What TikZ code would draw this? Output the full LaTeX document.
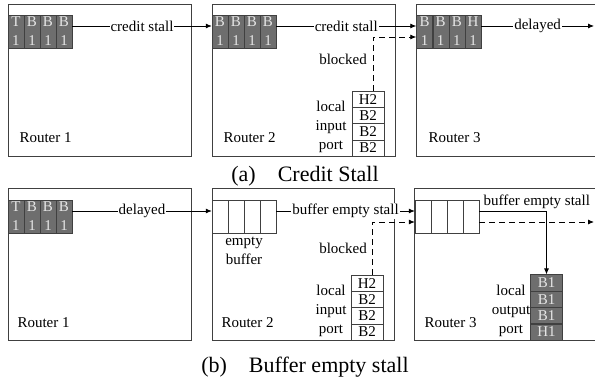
\documentclass[tikz,border=0pt]{standalone}
\usepackage{fontspec}
\setmainfont{Liberation Serif}
\usetikzlibrary{arrows.meta}
\definecolor{flitgray}{HTML}{6E6E6E}
\definecolor{linegray}{HTML}{404040}
\begin{document}
\begin{tikzpicture}[x=1pt,y=-1pt,
  font=\fontsize{15}{19}\selectfont,
  router/.style={draw=linegray,line width=0.9pt},
  flit/.style={draw=linegray,fill=flitgray,text=white!90!black,minimum width=16pt,
    minimum height=33pt,inner sep=0pt,align=center},
  slot/.style={draw=linegray,minimum width=16pt,minimum height=33pt,inner sep=0pt},
  qcell/.style={draw=linegray,minimum width=32pt,minimum height=16.25pt,inner sep=0pt},
  qfull/.style={qcell,fill=flitgray,text=white!90!black},
  link/.style={-{Latex[length=6pt,width=5pt]},line width=0.8pt},
  blockline/.style={link,dash pattern=on 6pt off 4pt},
  lbl/.style={fill=white,inner sep=1pt},
  caption/.style={font=\fontsize{22}{26}\selectfont}]
\useasboundingbox (0,0) rectangle (595,377);
\clip (0,0) rectangle (595,377);
% (a) credit stall: the routers
\draw[router] (8,4) rectangle (191,156);
\draw[router] (212,4) rectangle (395,156);
\draw[router] (416,4) rectangle (605,156);
% flits in each router
\foreach \t [count=\i from 0] in {T,B,B,B}
  \node[flit] (a1f\i) at ({16+16*\i},31.5) {\t\\1};
\foreach \t [count=\i from 0] in {B,B,B,B}
  \node[flit] (a2f\i) at ({220+16*\i},31.5) {\t\\1};
\foreach \t [count=\i from 0] in {B,B,B,H}
  \node[flit] (a3f\i) at ({424.5+16.2*\i},31.5) {\t\\1};
% local input port of router 2
\foreach \t [count=\i from 0] in {H2,B2,B2,B2}
  \node[qcell] (a2q\i) at (368,{99.1+16.25*\i}) {\t};
\node[align=center] (a2port) at (331,127) {local\\input\\port};
\node (a2blk) at (343,59) {blocked};
% router names
\node[anchor=base west] (a1name) at (16,143) {Router 1};
\node[anchor=base west] (a2name) at (220,143) {Router 2};
\node[anchor=base west] (a3name) at (425,143) {Router 3};
% links
\coordinate (a3out) at (594,26);
\draw[link] ([yshift=5.5pt]a1f3.east) -- node[lbl] {credit stall} ([yshift=5.5pt]a2f0.west);
\draw[link] ([yshift=5.5pt]a2f3.east) -- node[lbl] {credit stall} ([yshift=5.5pt]a3f0.west);
\draw[blockline] ([xshift=5pt]a2q0.north) |- ([yshift=-5.5pt]a3f0.west);
\draw[link] ([yshift=5.5pt]a3f3.east) -- node[lbl] {delayed} (a3out);
\node[caption] (capa) at (305,176) {(a)\quad Credit Stall};
% (b) buffer empty stall: the routers
\draw[router] (8,188) rectangle (191,340);
\draw[router] (212,188) rectangle (394,340);
\draw[router] (414,188) rectangle (605,340);
% flits and empty buffers
\foreach \t [count=\i from 0] in {T,B,B,B}
  \node[flit] (b1f\i) at ({16+16*\i},216.5) {\t\\1};
\foreach \i in {0,...,3}
  \node[slot] (b2s\i) at ({220+16*\i},216.5) {};
\foreach \i in {0,...,3}
  \node[slot] (b3s\i) at ({423+16*\i},216.5) {};
\node[align=center] (b2empty) at (244,251) {empty\\buffer};
% local input port of router 2, local output port of router 3
\foreach \t [count=\i from 0] in {H2,B2,B2,B2}
  \node[qcell] (b2q\i) at (367,{283.1+16.25*\i}) {\t};
\foreach \t [count=\i from 0] in {B1,B1,B1,H1}
  \node[qfull] (b3q\i) at (546.5,{282.75+16.4*\i}) {\t};
\node[align=center] (b2port) at (331,311) {local\\input\\port};
\node[align=center] (b3port) at (511,311) {local\\output\\port};
\node (b2blk) at (343,248) {blocked};
% router names
\node[anchor=base west] (b1name) at (14,327) {Router 1};
\node[anchor=base west] (b2name) at (218,327) {Router 2};
\node[anchor=base west] (b3name) at (421,327) {Router 3};
% links
\coordinate (b3out) at (594,222);
\draw[link] ([yshift=5.5pt]b1f3.east) -- node[lbl] {delayed} ([yshift=5.5pt]b2s0.west);
\draw[link] ([yshift=5.5pt]b2s3.east) -- node[lbl] {buffer empty stall} ([yshift=5.5pt]b3s0.west);
\draw[blockline] ([xshift=5pt]b2q0.north) |- ([yshift=-5.5pt]b3s0.west);
\draw[link] ([yshift=5.5pt]b3s3.east) -| node[pos=0,anchor=south west,inner sep=2pt,xshift=2pt] {buffer empty stall} (b3q0.north);
\draw[blockline] ([yshift=-5.5pt]b3s3.east) -- (b3out);
\node[caption] (capb) at (305,367) {(b)\quad Buffer empty stall};
\end{tikzpicture}
\end{document}
